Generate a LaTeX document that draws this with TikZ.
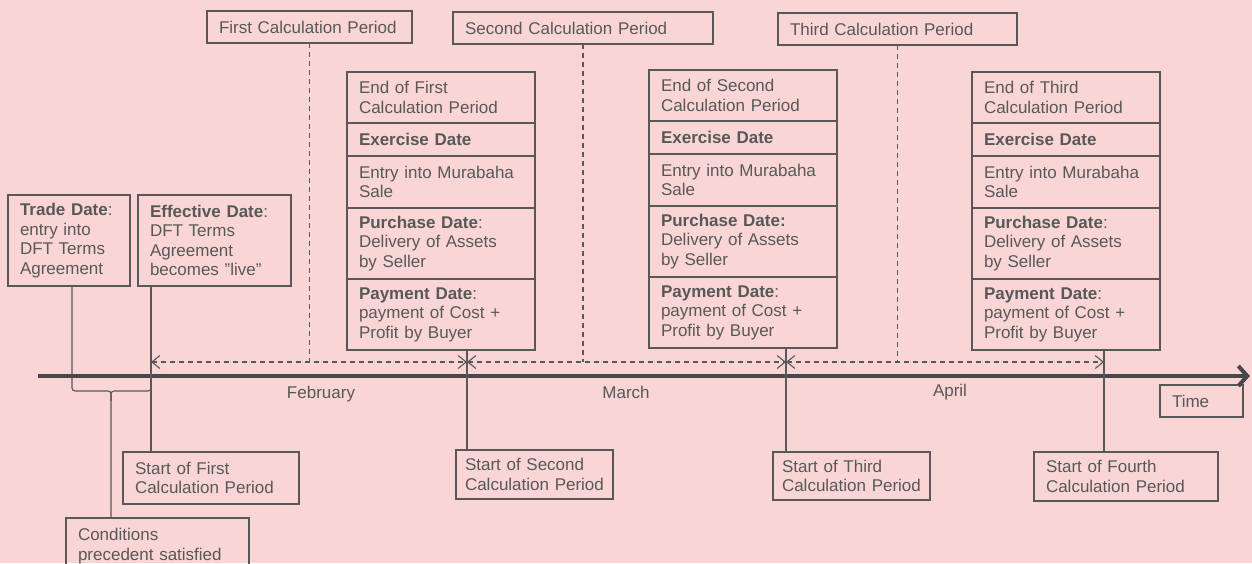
\documentclass[tikz,border=0pt]{standalone}
\usepackage{fontspec}
\setmainfont{Liberation Sans}
\usetikzlibrary{positioning,calc,arrows.meta}
\definecolor{bgpink}{RGB}{249,214,213}
\definecolor{ink}{RGB}{88,88,88}
\definecolor{axisgray}{RGB}{72,72,72}

\begin{document}
\begin{tikzpicture}[x=1pt,y=-1pt,>={Straight Barb[length=8pt,width=13pt]}]
			\tikzstyle{box}=[draw=ink,line width=1.1pt,text=ink,align=left,anchor=north west,inner xsep=12pt,inner ysep=0pt,outer sep=0pt,font=\fontsize{17}{19.5}\selectfont]
			\tikzstyle{cell}=[box,text width=164pt,anchor=north]
			\tikzstyle{link}=[draw=ink,line width=1.1pt]
			\tikzstyle{period}=[link,dash pattern=on 5pt off 4pt,<->]
			\tikzstyle{month}=[text=ink,font=\fontsize{17}{19.5}\selectfont]
			\useasboundingbox (0,0) rectangle (1252,563);
			\fill[bgpink] (0,0) rectangle (1252,563);
			\clip (0,0) rectangle (1252,563);
			%Axis Points
			\coordinate (tstart) at (38,376);
			\coordinate (tend) at (1250,376);
			\coordinate (q0) at (72,376);
			\coordinate (t0) at (151,376);
			\coordinate (t1) at (467,376);
			\coordinate (t2) at (786,376);
			\coordinate (t3) at (1104,376);
			\coordinate (d0) at (151,362);
			\coordinate (d1) at (467,362);
			\coordinate (d2) at (786,362);
			\coordinate (d3) at (1104,362);
			\coordinate (br) at (111,391);
			%Periods
			\node[box,text width=181pt,minimum height=32pt](p1) at (207,11){First Calculation Period};
			\node[box,text width=236pt,minimum height=32pt](p2) at (453,12){Second Calculation Period};
			\node[box,text width=215pt,minimum height=32pt](p3) at (778,13){Third Calculation Period};
			%Left Dates
			\node[box,text width=98pt,minimum height=91pt](trade) at (8,195){\textbf{Trade Date}:\\entry into\\DFT Terms\\Agreement};
			\node[box,text width=129pt,minimum height=91pt](eff) at (138,195){\textbf{Effective Date}:\\DFT Terms\\Agreement\\becomes "live"};
			%Date Columns
			\foreach \c/\xx/\yy/\nm/\pc in {1/347/72/First/{\textbf{Purchase Date}:},2/649/70/Second/{\textbf{Purchase Date:}},3/972/72/Third/{\textbf{Purchase Date}:}}{
				\node[cell,minimum height=51pt](e\c) at (\xx+94,\yy){End of \nm\\Calculation Period};
				\node[cell,minimum height=33pt,below=0pt of e\c](x\c){\textbf{Exercise Date}};
				\node[cell,minimum height=52pt,below=0pt of x\c](m\c){Entry into Murabaha\\Sale};
				\node[cell,minimum height=71pt,below=0pt of m\c](pd\c){\pc\\Delivery of Assets\\by Seller};
				\node[cell,minimum height=71pt,below=0pt of pd\c](py\c){\textbf{Payment Date}:\\payment of Cost +\\Profit by Buyer};
			}
			%Start Boxes
			\node[box,text width=152pt,minimum height=52pt](sfirst) at (123,452){Start of First\\Calculation Period};
			\node[box,inner xsep=9pt,text width=139pt,minimum height=49pt](ssecond) at (456,450){Start of Second\\Calculation Period};
			\node[box,inner xsep=9pt,text width=139pt,minimum height=48pt](sthird) at (773,452){Start of Third\\Calculation Period};
			\node[box,text width=160pt,minimum height=49pt](sfourth) at (1034,452){Start of Fourth\\Calculation Period};
			\node[box,text width=159pt,minimum height=56pt](cond) at (66,518){Conditions\\precedent satisfied};
			\node[box,text width=59pt,minimum height=32pt](time) at (1160,385){Time};
			%Months
			\node[month](feb) at (321,394){February};
			\node[month](mar) at (626,392){March};
			\node[month](apr) at (950,392){April};
			%Time Axis
			\draw[draw=axisgray,line width=4pt,-{Straight Barb[length=9pt,width=20pt]}](tstart)--(tend);
			%Ticks
			\draw[link](t0 |- eff.south)--(t0 |- sfirst.north);
			\draw[link,rounded corners=3pt](q0 |- trade.south) |- (br)--(br |- cond.north);
			\draw[link,rounded corners=3pt](t0) |- (br)--($(br)+(0,10)$);
			\draw[link](t1 |- py1.south)--(t1 |- ssecond.north);
			\draw[link](t2 |- py2.south)--(t2 |- sthird.north);
			\draw[link](t3 |- py3.south)--(t3 |- sfourth.north);
			%Period Arrows
			\draw[period](d0)--(d1);
			\draw[period](d1)--(d2);
			\draw[period](d2)--(d3);
			\draw[link,dash pattern=on 5pt off 4pt](p1.south)--(p1.south |- d0);
			\draw[link,dash pattern=on 5pt off 4pt](p2.south)--(p2.south |- d0);
			\draw[link,dash pattern=on 5pt off 4pt](p3.south)--(p3.south |- d0);
\end{tikzpicture}
\end{document}
